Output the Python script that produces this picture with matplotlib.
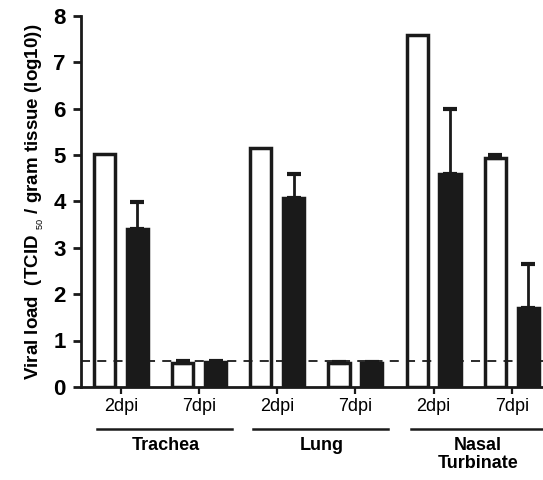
import matplotlib.pyplot as plt
import matplotlib.transforms as mtransforms
import numpy as np

plt.rcParams['font.family'] = ['Liberation Sans', 'DejaVu Sans']
plt.rcParams['mathtext.fontset'] = 'custom'
plt.rcParams['mathtext.rm'] = 'Liberation Sans'

# data
tissues = ['Trachea', 'Lung', 'Nasal\nTurbinate']
days = ['2dpi', '7dpi']
open_means = [5.02, 0.52, 5.15, 0.51, 7.58, 4.93]
open_err = [0.0, 0.03, 0.0, 0.03, 0.0, 0.08]
filled_means = [3.40, 0.53, 4.08, 0.52, 4.60, 1.71]
filled_err = [0.58, 0.02, 0.50, 0.02, 1.40, 0.93]
detect_limit = 0.56

fig = plt.figure(figsize=(5.43, 4.8), dpi=100)
ax = fig.add_axes([0.149, 0.194, 0.851, 0.773])

x = np.arange(len(open_means))
w = 0.27
off = 0.21
lw = 2.5
ink = '#1a1a1a'

ax.bar(x - off, open_means, w, facecolor='white', edgecolor=ink, linewidth=lw, zorder=2)
ax.bar(x + off, filled_means, w, facecolor=ink, edgecolor=ink, linewidth=lw, zorder=2)

# upper error bars only, where there is one
for pos, means, errs in [(x - off, open_means, open_err), (x + off, filled_means, filled_err)]:
    keep = np.array(errs) > 0
    ax.errorbar(pos[keep], np.array(means)[keep],
                yerr=[np.zeros(keep.sum()), np.array(errs)[keep]], fmt='none',
                ecolor=ink, elinewidth=2, capsize=5, capthick=3, zorder=3)

# limit of detection
ax.axhline(detect_limit, color=ink, linestyle=(0, (5, 4)), linewidth=1.3, zorder=4)

ax.set_xlim(-0.513, 5.40)
ax.set_ylim(0, 8)
ax.set_yticks(range(0, 9))
ax.set_yticklabels([str(i) for i in range(0, 9)], fontsize=16, fontweight='bold')
ax.set_xticks(x)
ax.set_xticklabels(days * len(tissues), fontsize=13)

for s in ['top', 'right']:
    ax.spines[s].set_visible(False)
for s in ['left', 'bottom']:
    ax.spines[s].set_linewidth(2.0)
    ax.spines[s].set_color(ink)
ax.tick_params(axis='y', length=6, width=2.0, pad=5, color=ink)
ax.tick_params(axis='x', length=5, width=1.6, pad=3, color=ink)

ax.set_ylabel('Viral load  (TCID $_{_{50}}$ / gram tissue (log10))', fontsize=13.5,
              fontweight='bold', labelpad=5)

# group brackets under the tick labels
trans = mtransforms.blended_transform_factory(ax.transData, ax.transAxes)
brackets = [(-0.31, 1.42), (1.69, 3.42), (3.71, 5.6)]
for (x0, x1), name, i in zip(brackets, tissues, range(3)):
    ax.plot([x0, x1], [-0.113, -0.113], color=ink, linewidth=1.8,
            transform=trans, clip_on=False)
    ax.text(2 * i + 0.57, -0.135, name, transform=trans, ha='center', va='top',
            fontsize=13, fontweight='bold', linespacing=1.05)

fig.savefig('out.png', dpi=100)
